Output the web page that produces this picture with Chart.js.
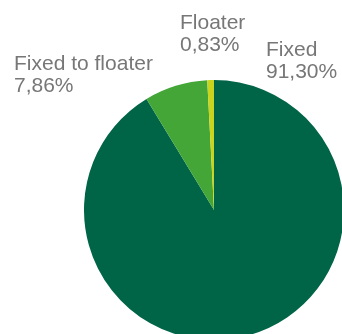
<!DOCTYPE html>
<html lang="en">

<head>
    <meta charset="UTF-8">
    <title>Fixed / floater</title>
    <script src="https://cdn.jsdelivr.net/npm/chart.js"></script>
</head>

<style>
    body {
        margin: 0;
        padding: 0;
        width: 342px;
        height: 334px;
        overflow: hidden;
        background: #FFF;
        position: relative;
        font-family: "Liberation Sans", Arial, sans-serif;
    }

    .grafico_pizza {
        position: absolute;
        left: 84px;
        top: 80px;
        width: 260px;
        height: 260px;
    }

    .rotulo {
        position: absolute;
        color: #777;
        font-size: 21px;
        line-height: 22px;
        white-space: nowrap;
    }
</style>

<body>
    <div class="grafico_pizza">
        <canvas id="myChartCanvasPizza" width="260" height="260"></canvas>
    </div>
    <div id="rotulos"></div>
</body>

</html>

<script>
    // dados
    let categorias = ['Fixed', 'Fixed to floater', 'Floater'];
    let valores = [91.30, 7.86, 0.83];
    let textosValor = ['91,30%', '7,86%', '0,83%'];
    let cores = ['#006446', '#43A637', '#C8D41E'];

    // posição dos rótulos (só layout)
    let posRotulos = [
        { left: 266, top: 38 },
        { left: 14, top: 52 },
        { left: 180, top: 11 }
    ];

    let html = '';
    for (let i = 0; i < categorias.length; i++) {
        html += `<div class="rotulo" style="left:${posRotulos[i].left}px;top:${posRotulos[i].top}px">${categorias[i]}<br>${textosValor[i]}</div>`;
    }
    rotulos.innerHTML = html;

    const config = {
        type: 'pie',
        data: {
            labels: categorias,
            datasets: [{
                data: valores,
                backgroundColor: cores,
                borderWidth: 0
            }]
        },
        options: {
            responsive: false,
            animation: false,
            layout: { padding: 0 },
            plugins: {
                legend: { display: false },
                tooltip: { enabled: false }
            }
        }
    };

    let myChart = new Chart(
        document.getElementById('myChartCanvasPizza'),
        config
    );
</script>
